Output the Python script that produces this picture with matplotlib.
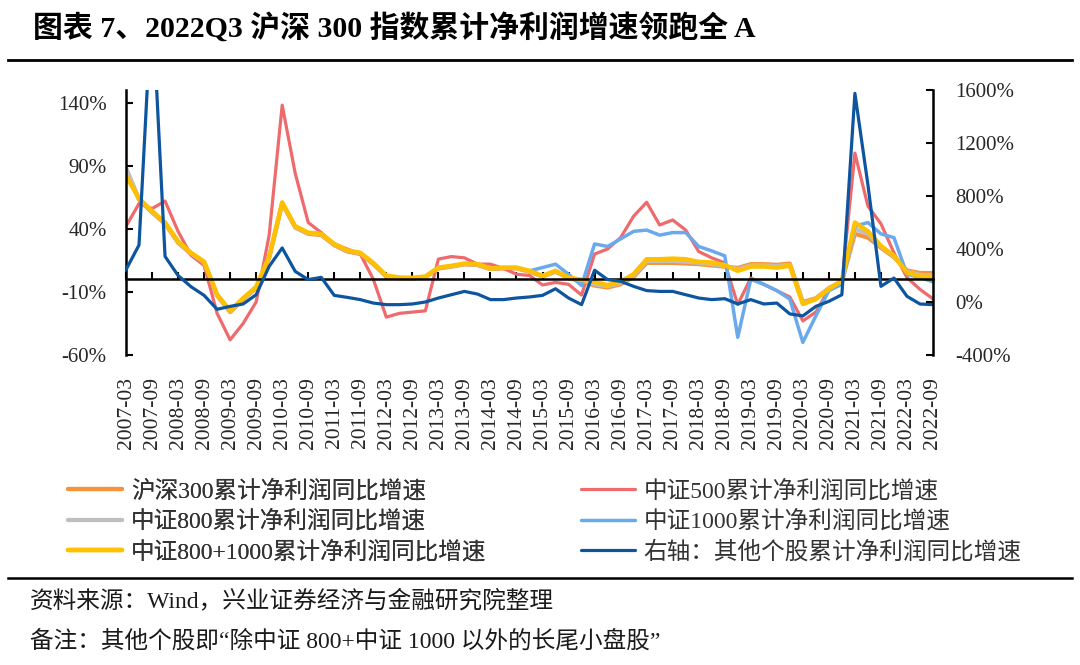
import numpy as np
import matplotlib
matplotlib.use("Agg")
import matplotlib.pyplot as plt
from matplotlib.lines import Line2D
from matplotlib.font_manager import FontProperties

# ---------------- data ----------------
quarters = [f"{y}-{m:02d}" for y in range(2007, 2023) for m in (3, 6, 9, 12)][:63]

hs300 = [88, 63, 53, 44, 29, 20, 13, -13, -26, -16, -7, 17, 60, 41, 36, 35, 27, 22, 20, 12,
         2, 0.8, 0.6, 1.6, 8.6, 10, 11.8, 11.3, 8, 8.6, 8.6, 6, 2.2, 6, 0.8, -1.5, -5, -6.5, -4,
         2, 13, 13, 13, 12.5, 12, 11, 10, 9, 12, 12, 11.5, 12.5, -18, -15, -7, -1.5, 36, 33, 25,
         17.5, 7, 5, 5]
zz500 = [42, 60, 56, 62, 38, 19, 11, -27, -48, -35, -18, 35, 138, 84, 45, 37, 28, 24, 20, 0,
         -30, -27, -26, -25, 16, 18, 17, 12, 12, 8.6, 4, 3, -4.5, -2.5, -4, -12.5, 20, 24, 33,
         50, 61, 43, 47, 39, 22, 17, 13, -20, 1, -4, -9, -14, -33, -26, -8, -2.5, 100, 58, 44,
         21, 1.4, -8, -15.5]
zz800 = [88, 63.5, 53.5, 44.5, 29.5, 20.5, 13.5, -12.5, -25.5, -15.5, -6.5, 17.5, 60.5, 41.5,
         36.5, 35.5, 27.5, 22.5, 20.5, 12.5, 2.5, 1, 0.8, 1.9, 9, 10.3, 12.2, 11.6, 8.3, 9, 9, 6.3,
         2.5, 6.3, 1.1, -0.9, -4, -5.5, -3, 3, 14.5, 14.5, 14.5, 14, 13, 12, 10.5, 8, 11, 11, 10.5,
         11.5, -19, -15.5, -7.5, -1.3, 40, 36, 26, 18, 6, 3.5, 3]
zz1000 = [np.nan] * 31 + [6.7, 9.3, 12, 4, -5, 28, 26, 32, 38, 39, 35, 37, 37, 26, 22.5, 18.6,
                         -46, 0, -4, -9, -15.7, -50, -29, -9, -4, 42, 45, 36, 33, 4, 1.4, -2]
zz800_1000 = [82, 64, 54, 45, 30, 21, 14, -12, -25, -15, -6, 18, 61, 42, 37, 36, 28, 23, 21, 13,
              3, 1.4, 1.2, 2.2, 9.3, 10.7, 12.5, 12, 8.6, 9.3, 9.3, 6.7, 2.8, 6.7, 1.4, -0.4, -2,
              -4.6, -2, 4.1, 15.9, 15.9, 16.4, 15.9, 13.8, 13.3, 11.2, 6.7, 10.1, 10.1, 9.3, 10.7,
              -19.6, -15.7, -7.8, -1.2, 45, 38, 26.4, 18.6, 5.4, 2.2, 2]
others = [244, 430, 2300, 344, 200, 115, 50, -55, -33, -15, 55, 269, 408, 231, 169, 186, 50, 35,
          18, -8, -20, -20, -15, 0, 30, 55, 80, 60, 18, 18, 30, 38, 50, 100, 30, -20, 240, 169,
          156, 118, 86, 80, 80, 55, 30, 18, 25, -15, 18, -15, -8, -90, -105, -33, 5, 55, 1575,
          885, 118, 181, 43, -15, -20]

left_ticks = [-60, -10, 40, 90, 140]
right_ticks = [-400, 0, 400, 800, 1200, 1600]

names = ["沪深300累计净利润同比增速", "中证500累计净利润同比增速", "中证800累计净利润同比增速",
         "中证1000累计净利润同比增速", "中证800+1000累计净利润同比增速",
         "右轴：其他个股累计净利润同比增速"]
colors = ["#F7923A", "#EE6A6C", "#BFBFBF", "#6AAAEC", "#FFC000", "#0D559F"]
widths = [3.0, 2.3, 3.0, 2.5, 3.2, 2.3]

title = "图表 7、2022Q3 沪深 300 指数累计净利润增速领跑全 A"
source = "资料来源：Wind，兴业证券经济与金融研究院整理"
note = "备注：其他个股即“除中证 800+中证 1000 以外的长尾小盘股”"

FAM = ["Liberation Serif", "Noto Sans CJK SC", "DejaVu Sans"]
plt.rcParams["font.family"] = FAM

W, H = 1080, 665
fig = plt.figure(figsize=(W / 100, H / 100), dpi=100)
L, R, T, B = 126, 933, 90, 355
ax = fig.add_axes([L / W, 1 - B / H, (R - L) / W, (B - T) / H])
ax2 = ax.twinx()

x = np.arange(len(quarters))
series = [hs300, zz500, zz800, zz1000, zz800_1000]
handles = []
for s, n, c, w in zip(series, names[:5], colors[:5], widths[:5]):
    h, = ax.plot(x, s, color=c, lw=w, label=n, solid_joinstyle="round", solid_capstyle="round")
    handles.append(h)
h, = ax2.plot(x, others, color=colors[5], lw=widths[5], label=names[5],
              solid_joinstyle="round", solid_capstyle="round")
handles.append(h)

ax.set_xlim(0, len(quarters) - 1)
ax.set_ylim(-60, 150)
ax2.set_ylim(-400, 1600)

tick_color = "#262626"
ax.set_yticks(left_ticks, [f"{v}%" for v in left_ticks])
ax2.set_yticks(right_ticks, [f"{v}%" for v in right_ticks])
ax.tick_params(axis="y", direction="in", length=5, width=1.5, pad=14,
               labelsize=15, labelcolor=tick_color)
ax2.tick_params(axis="y", direction="in", length=5, width=1.5, pad=16,
                labelsize=15, labelcolor=tick_color)

for sp in ["top", "right"]:
    ax.spines[sp].set_visible(False)
for sp in ["top", "left", "bottom"]:
    ax2.spines[sp].set_visible(False)
ax.spines["left"].set_linewidth(1.8)
ax2.spines["right"].set_linewidth(1.8)
ax.spines["bottom"].set_position(("data", 0))
ax.spines["bottom"].set_linewidth(1.8)
ax.set_xticks(x[::2])
ax.tick_params(axis="x", direction="in", length=5, width=1.5, labelbottom=False)

sec = ax.secondary_xaxis("bottom")
sec.set_xticks(x[::2], [quarters[i] for i in x[::2]], rotation=90)
sec.tick_params(axis="x", length=0, pad=16, labelsize=15.5, labelcolor=tick_color)
sec.spines["bottom"].set_visible(False)

# title and rules
fig.text(33 / W, 1 - 28 / H, title, fontsize=21.5, fontweight="bold", va="center", ha="left",
         color="black")
fig.add_artist(Line2D([8 / W, 1072 / W], [1 - 60 / H] * 2, transform=fig.transFigure,
                      color="black", lw=2))
fig.add_artist(Line2D([8 / W, 1072 / W], [1 - 578 / H] * 2, transform=fig.transFigure,
                      color="black", lw=1.8))

# legends
prop = FontProperties(family=FAM, size=17)
leg_kw = dict(loc="upper left", frameon=False, prop=prop, handlelength=2.3,
              handletextpad=0.35, labelspacing=0.34, borderaxespad=0, borderpad=0,
              labelcolor="#333333")
leg1 = fig.legend(handles=[handles[0], handles[2], handles[4]],
                  bbox_to_anchor=(68 / W, 1 - 480 / H), **leg_kw)
leg2 = fig.legend(handles=[handles[1], handles[3], handles[5]],
                  bbox_to_anchor=(581 / W, 1 - 480 / H), **leg_kw)
fig.add_artist(leg1)

fig.text(30 / W, 1 - 601 / H, source, fontsize=17, va="center", ha="left", color="#1a1a1a")
fig.text(30 / W, 1 - 641 / H, note, fontsize=17, va="center", ha="left", color="#1a1a1a")

fig.savefig("out.png", dpi=100)
